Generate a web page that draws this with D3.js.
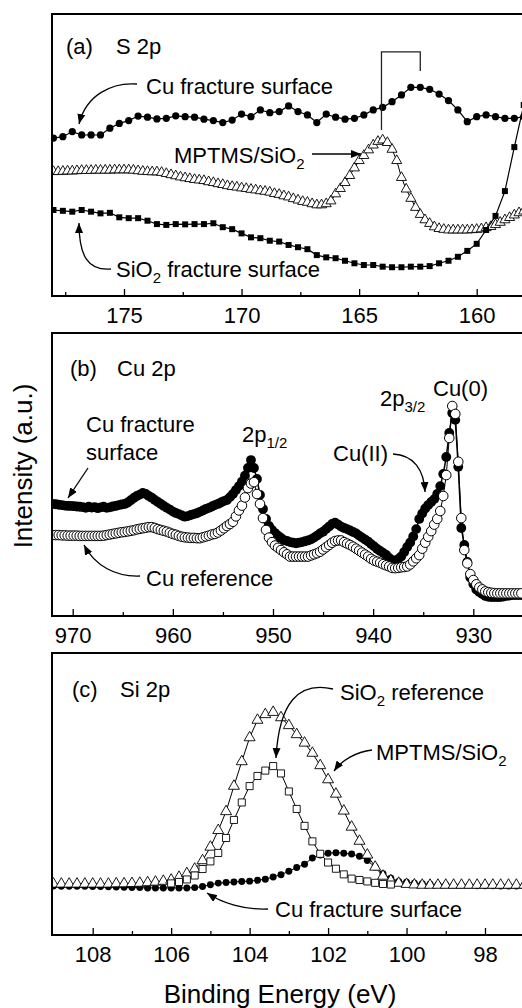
<!DOCTYPE html>
<html>
<head>
<meta charset="utf-8">
<script src="https://cdn.jsdelivr.net/npm/d3@7"></script>
<style>
  html, body { margin: 0; padding: 0; background: #fff; }
  svg { display: block; font-family: "Liberation Sans", Arial, Helvetica, sans-serif; }
  text { white-space: pre; }
</style>
</head>
<body>
<svg id="chart" width="522" height="1008"></svg>
<script>

/* ---------------- data ---------------- */
// each scan is sampled on a fixed energy grid: start (eV), step (eV), channels
const scanA1 = { start: 178, step: -0.4, n: 51 };   // Cu fracture, SiO2 fracture (S 2p)
const scanA2 = { start: 178, step: -0.2, n: 101 };  // MPTMS/SiO2 (S 2p)
const scanB  = { start: 972, step: -0.3, n: 157 };  // Cu 2p
const scanC  = { start: 109, step: -0.2, n: 61 };   // Si 2p
const scanC2 = { start: 106, step: -0.2, n: 29 };   // SiO2 reference (Si 2p)

// (a) S 2p, intensity in arbitrary units (0-100 = panel height)
const sCuFracture = [
  56.0, 56.5, 58.3, 57.1, 57.1, 57.1, 59.5, 61.2, 62.2, 63.8,
  63.4, 62.8, 63.0, 63.9, 63.6, 63.4, 62.7, 62.2, 61.5, 62.4,
  64.5, 63.6, 66.0, 65.0, 65.4, 67.4, 65.4, 64.2, 61.5, 64.5,
  63.4, 62.7, 63.0, 64.2, 66.0, 66.9, 68.9, 71.3, 74.0, 74.0,
  73.3, 71.6, 69.3, 66.0, 61.8, 63.6, 64.2, 63.6, 63.0, 63.0,
  63.6
];
const sSio2Fracture = [
  30.5, 30.2, 29.9, 30.5, 29.9, 29.3, 29.5, 27.9, 27.6, 27.6,
  26.7, 25.5, 25.2, 25.5, 25.4, 25.5, 25.5, 25.8, 24.4, 23.7,
  22.2, 20.8, 20.5, 19.6, 19.3, 18.1, 17.3, 16.6, 14.5, 13.7,
  13.4, 12.5, 11.6, 11.0, 11.0, 10.4, 10.2, 10.2, 10.4, 10.4,
  10.6, 11.6, 12.5, 13.9, 16.0, 18.5, 23.4, 28.4, 37.2, 52.8,
  67.7
];
const sMptms = [
  44.1, 44.1, 44.2, 44.3, 44.3, 44.4, 44.5, 44.5, 44.5, 44.6,
  44.6, 44.6, 44.6, 44.7, 44.7, 44.7, 44.7, 44.6, 44.4, 44.2,
  44.1, 44.0, 44.0, 43.8, 43.4, 43.0, 42.6, 42.2, 41.9, 41.6,
  41.3, 41.1, 40.9, 40.5, 40.2, 39.8, 39.5, 39.1, 38.8, 38.6,
  38.3, 38.1, 37.8, 37.6, 37.3, 37.1, 36.8, 36.3, 36.0, 35.5,
  35.1, 34.5, 34.0, 33.5, 33.2, 32.7, 32.3, 32.3, 32.7, 33.7,
  36.2, 38.1, 40.2, 42.7, 45.4, 48.0, 49.8, 51.8, 53.5, 54.8,
  55.3, 54.4, 52.0, 48.0, 42.0, 37.9, 34.6, 31.4, 28.9, 27.0,
  25.7, 24.5, 23.9, 23.6, 23.4, 23.4, 23.4, 23.4, 23.4, 23.5,
  23.6, 23.8, 24.2, 24.6, 25.3, 26.1, 27.0, 27.8, 28.7, 29.5,
  30.1
];

// (b) Cu 2p
const cuFracture = [
  39.6, 39.5, 39.3, 39.2, 39.0, 38.9, 38.9, 38.8, 38.7, 38.6,
  38.5, 38.2, 38.6, 38.3, 38.5, 38.1, 38.4, 38.6, 38.2, 38.4,
  38.7, 38.9, 39.2, 39.4, 39.6, 40.1, 40.9, 41.7, 42.4, 42.9,
  43.5, 43.1, 42.4, 41.8, 41.0, 40.3, 39.6, 38.9, 38.2, 37.6,
  36.9, 36.4, 36.0, 35.5, 35.1, 35.3, 35.7, 36.0, 36.3, 36.8,
  37.3, 37.8, 38.2, 38.7, 39.2, 39.6, 40.1, 40.6, 41.0, 42.0,
  43.1, 44.5, 45.9, 47.5, 49.6, 52.3, 55.1, 52.3, 48.4, 42.8,
  37.8, 34.3, 31.8, 30.4, 29.3, 28.4, 27.6, 26.8, 26.5, 26.1,
  25.9, 25.7, 25.9, 26.1, 26.4, 26.7, 27.1, 27.7, 28.4, 29.2,
  29.8, 30.7, 31.6, 32.5, 33.0, 32.3, 31.6, 31.1, 30.7, 30.2,
  29.7, 29.2, 28.4, 27.7, 27.0, 26.3, 25.4, 24.6, 23.7, 23.0,
  22.3, 21.6, 20.5, 19.6, 19.6, 20.1, 21.0, 22.6, 24.4, 26.0,
  28.1, 30.7, 34.3, 36.2, 38.0, 39.2, 40.3, 41.3, 43.1, 45.9,
  50.2, 56.2, 64.7, 71.7, 69.3, 52.7, 31.1, 25.1, 19.1, 13.6,
  11.3, 9.4, 8.5, 7.8, 7.1, 6.8, 6.7, 6.7, 6.7, 6.7,
  6.9, 7.1, 7.2, 7.4, 7.4, 7.4, 7.4
];
const cuReference = [
  28.6, 28.6, 28.6, 28.5, 28.5, 28.4, 28.4, 28.4, 28.4, 28.3,
  28.3, 28.3, 28.3, 28.3, 28.3, 28.3, 28.3, 28.4, 28.6, 28.8,
  29.0, 29.2, 29.4, 29.6, 29.7, 29.9, 30.1, 30.3, 30.6, 30.8,
  31.0, 31.2, 31.4, 31.4, 31.1, 30.7, 30.4, 30.1, 29.8, 29.4,
  29.0, 28.7, 28.3, 28.0, 27.8, 27.7, 27.6, 27.6, 27.5, 27.5,
  27.8, 28.1, 28.4, 28.8, 29.0, 29.5, 30.2, 31.0, 31.8, 32.5,
  33.3, 35.2, 37.3, 39.0, 41.9, 45.2, 46.8, 47.3, 43.1, 39.6,
  34.6, 30.4, 27.7, 26.1, 24.9, 24.1, 23.3, 22.5, 21.8, 21.0,
  21.0, 21.0, 21.0, 21.0, 21.0, 21.0, 21.4, 21.8, 22.2, 22.7,
  23.5, 24.3, 25.1, 25.9, 26.5, 26.7, 26.7, 26.1, 25.6, 25.1,
  24.5, 23.8, 23.1, 22.4, 21.7, 21.0, 20.2, 19.6, 19.2, 18.8,
  18.3, 17.9, 17.5, 17.0, 16.9, 17.0, 17.2, 17.3, 17.5, 18.2,
  19.3, 20.4, 21.5, 23.8, 25.9, 28.0, 30.0, 32.3, 34.3, 37.1,
  42.4, 49.8, 62.9, 74.2, 71.4, 54.5, 34.6, 23.3, 18.6, 14.8,
  12.7, 11.2, 10.1, 9.4, 8.7, 8.4, 8.2, 8.1, 8.0, 8.0,
  8.0, 8.0, 8.0, 8.0, 8.0, 8.0, 8.0
];

// (c) Si 2p
const siCuFracture = [
  17.4, 17.3, 17.3, 17.3, 17.3, 17.2, 17.2, 17.1, 17.0, 16.9,
  16.8, 16.8, 16.7, 16.7, 16.7, 16.7, 16.7, 16.7, 16.8, 17.2,
  17.8, 18.4, 18.6, 18.8, 19.0, 19.1, 19.4, 19.8, 20.6, 21.4,
  22.6, 23.9, 25.1, 27.3, 28.4, 29.0, 29.2, 29.0, 28.7, 27.9,
  26.4, 24.1, 21.7, 20.1, 19.0, 18.7, 18.4, 18.2, 18.0, 17.8,
  17.7, 17.6, 17.6, 17.6, 17.5, 17.5, 17.5, 17.4, 17.4, 17.4,
  17.4
];
const siMptms = [
  18.1, 18.1, 18.1, 18.1, 18.1, 18.1, 18.1, 18.1, 18.2, 18.2,
  18.3, 18.4, 18.6, 18.8, 19.1, 19.5, 20.5, 21.8, 23.4, 26.4,
  31.2, 37.1, 43.8, 52.8, 61.5, 70.0, 76.2, 78.2, 79.0, 77.1,
  74.3, 71.1, 68.1, 64.5, 60.1, 55.1, 50.0, 44.0, 38.3, 33.3,
  28.4, 24.1, 20.9, 19.3, 18.4, 18.0, 17.8, 17.7, 17.7, 17.7,
  17.7, 17.7, 17.7, 17.7, 17.7, 17.7, 17.7, 17.7, 17.7, 17.7,
  17.7
];
const siSio2Reference = [
  18.3, 18.8, 19.7, 21.1, 23.4, 26.1, 29.1, 34.4, 40.8, 47.0,
  52.8, 56.4, 58.3, 59.9, 57.3, 50.9, 44.7, 38.7, 33.2, 28.8,
  25.7, 23.5, 21.5, 20.0, 19.5, 19.0, 18.5, 18.1, 17.9
];

// tick values
const ticksA = [175, 170, 165, 160], minorA = [177.5, 172.5, 167.5, 162.5];
const ticksB = [970, 960, 950, 940, 930], minorB = [965, 955, 945, 935];
const ticksC = [108, 106, 104, 102, 100, 98], minorC = [107, 105, 103, 101, 99];

/* ---------------- layout ---------------- */
const svg = d3.select('#chart');
const frameLeft = 52, frameWidth = 500;

function energies(scan) {
  return d3.range(scan.n).map(i => +(scan.start + i * scan.step).toFixed(2));
}

svg.append('defs').append('marker')
  .attr('id', 'head')
  .attr('viewBox', '0 0 10 8')
  .attr('refX', 10).attr('refY', 4)
  .attr('markerWidth', 10).attr('markerHeight', 8)
  .attr('markerUnits', 'userSpaceOnUse')
  .attr('orient', 'auto')
  .append('path').attr('d', 'M0,0L10,4L0,8Z').attr('fill', '#000');

function makePanel(id, top, bottom, x, ticks, minor) {
  let y = d3.scaleLinear().domain([0, 100]).range([bottom, top]);

  svg.select('defs').append('clipPath').attr('id', 'clip-' + id)
    .append('rect').attr('x', frameLeft).attr('y', top)
    .attr('width', frameWidth).attr('height', bottom - top);

  let plot = svg.append('g').attr('clip-path', `url(#clip-${id})`);

  /* minor + major ticks, pointing inward */
  svg.append('g')
    .attr('transform', `translate(0, ${bottom})`)
    .call(d3.axisBottom(x).tickValues(minor).tickSize(-4).tickFormat(''))
    .call(g => g.select('.domain').remove())
    .call(g => g.selectAll('line').attr('stroke-width', 1.3));

  svg.append('g')
    .attr('transform', `translate(0, ${bottom})`)
    .call(d3.axisBottom(x).tickValues(ticks).tickSize(-7).tickPadding(11.5).tickFormat(d3.format('d')))
    .call(g => g.select('.domain').remove())
    .call(g => g.selectAll('line').attr('stroke-width', 1.3))
    .attr('font-size', 22)
    .attr('font-family', null)
    .call(g => g.selectAll('text').attr('fill', '#000'));

  /* frame (right side runs off the page) */
  svg.append('rect')
    .attr('x', frameLeft).attr('y', top)
    .attr('width', frameWidth).attr('height', bottom - top)
    .attr('fill', 'none').attr('stroke', '#000').attr('stroke-width', 2);

  return { plot, x, y };
}

function drawSeries(p, scan, values, opt) {
  let e = energies(scan);
  let pts = values.map((v, i) => [e[i], v]);
  let line = d3.line().x(d => p.x(d[0])).y(d => p.y(d[1]));

  p.plot.append('path')
    .datum(pts)
    .attr('fill', 'none')
    .attr('stroke', '#000')
    .attr('stroke-width', opt.lw)
    .attr('d', line);

  p.plot.append('g')
    .selectAll('path')
    .data(pts)
    .enter()
    .append('path')
    .attr('transform', d => `translate(${p.x(d[0])}, ${p.y(d[1])})`)
    .attr('d', d3.symbol().type(opt.type).size(opt.size))
    .attr('fill', opt.fill)
    .attr('stroke', '#000')
    .attr('stroke-width', opt.sw);
}

// parts: plain strings, or strings starting with '_' for subscripts
function label(x, y, parts, size) {
  let t = svg.append('text').attr('x', x).attr('y', y).attr('font-size', size || 22).attr('fill', '#000');
  let down = false;
  parts.forEach(part => {
    let sub = part.startsWith('_');
    let ts = t.append('tspan').text(sub ? part.slice(1) : part);
    if (sub && !down) { ts.attr('font-size', 15).attr('dy', 6); down = true; }
    else if (sub) { ts.attr('font-size', 15); }
    else if (down) { ts.attr('dy', -6); down = false; }
  });
}

function arrow(d) {
  svg.append('path')
    .attr('d', d)
    .attr('fill', 'none')
    .attr('stroke', '#000')
    .attr('stroke-width', 1.3)
    .attr('marker-end', 'url(#head)');
}

/* ---------------- (a) S 2p ---------------- */
let pa = makePanel('a', 14, 296,
  d3.scaleLinear().domain([175, 160]).range([124, 476.7]), ticksA, minorA);

drawSeries(pa, scanA2, sMptms, { type: d3.symbolTriangle, size: 44, fill: '#fff', sw: 0.9, lw: 1 });
drawSeries(pa, scanA1, sCuFracture, { type: d3.symbolCircle, size: 41, fill: '#000', sw: 0, lw: 1.2 });
drawSeries(pa, scanA1, sSio2Fracture, { type: d3.symbolSquare, size: 36, fill: '#000', sw: 0, lw: 1.2 });

// doublet bracket
pa.plot.append('path')
  .attr('d', `M${pa.x(164.05)},${pa.y(58.9)}V${pa.y(86.6)}H${pa.x(162.4)}V${pa.y(79.8)}`)
  .attr('fill', 'none').attr('stroke', '#222').attr('stroke-width', 1.3);

label(66, 54, ['(a)']);
label(116, 54, ['S 2p']);
label(146, 94, ['Cu fracture surface']);
arrow('M137,84 C112,82 86,95 79,124');
label(174, 163, ['MPTMS/SiO', '_2']);
arrow('M312,154 L361,154');
label(116, 277, ['SiO', '_2', ' fracture surface']);
arrow('M111,269 C88,271 79,256 79,223');

/* ---------------- (b) Cu 2p ---------------- */
let pb = makePanel('b', 333, 616,
  d3.scaleLinear().domain([970, 930]).range([72.7, 473.3]), ticksB, minorB);

drawSeries(pb, scanB, cuFracture, { type: d3.symbolCircle, size: 76, fill: '#000', sw: 0, lw: 1.5 });
drawSeries(pb, scanB, cuReference, { type: d3.symbolCircle, size: 72, fill: '#fff', sw: 1, lw: 1 });

label(70, 376, ['(b)']);
label(117, 376, ['Cu 2p']);
label(86, 432, ['Cu fracture']);
label(86, 460, ['surface']);
arrow('M88,468 L68,498');
label(242, 442, ['2p', '_1/2']);
label(333, 461, ['Cu(II)']);
arrow('M393,454 C414,455 424,470 425,492');
label(380, 406, ['2p', '_3/2']);
label(433, 396, ['Cu(0)']);
label(146, 586, ['Cu reference']);
arrow('M140,576 C116,577 95,566 84,545');

/* ---------------- (c) Si 2p ---------------- */
let pc = makePanel('c', 653, 935,
  d3.scaleLinear().domain([108, 98]).range([92.7, 485]), ticksC, minorC);

drawSeries(pc, scanC, siCuFracture, { type: d3.symbolCircle, size: 38, fill: '#000', sw: 0, lw: 1 });
drawSeries(pc, scanC, siMptms, { type: d3.symbolTriangle, size: 52, fill: '#fff', sw: 0.9, lw: 1 });
drawSeries(pc, scanC2, siSio2Reference, { type: d3.symbolSquare, size: 50, fill: '#fff', sw: 0.9, lw: 1 });

label(72, 697, ['(c)']);
label(120, 697, ['Si 2p']);
label(340, 700, ['SiO', '_2', ' reference']);
arrow('M333,689 C299,681 279,702 276,758');
label(376, 760, ['MPTMS/SiO', '_2']);
arrow('M372,750 C356,752 342,760 334,771');
label(275, 917, ['Cu fracture surface']);
arrow('M268,909 C244,910 222,903 207,893');

/* ---------------- axis titles ---------------- */
svg.append('text')
  .attr('transform', 'translate(32, 466) rotate(-90)')
  .attr('text-anchor', 'middle')
  .attr('font-size', 26)
  .text('Intensity (a.u.)');

svg.append('text')
  .attr('x', 280).attr('y', 1003)
  .attr('text-anchor', 'middle')
  .attr('font-size', 26)
  .text('Binding Energy (eV)');

</script>
</body>
</html>
